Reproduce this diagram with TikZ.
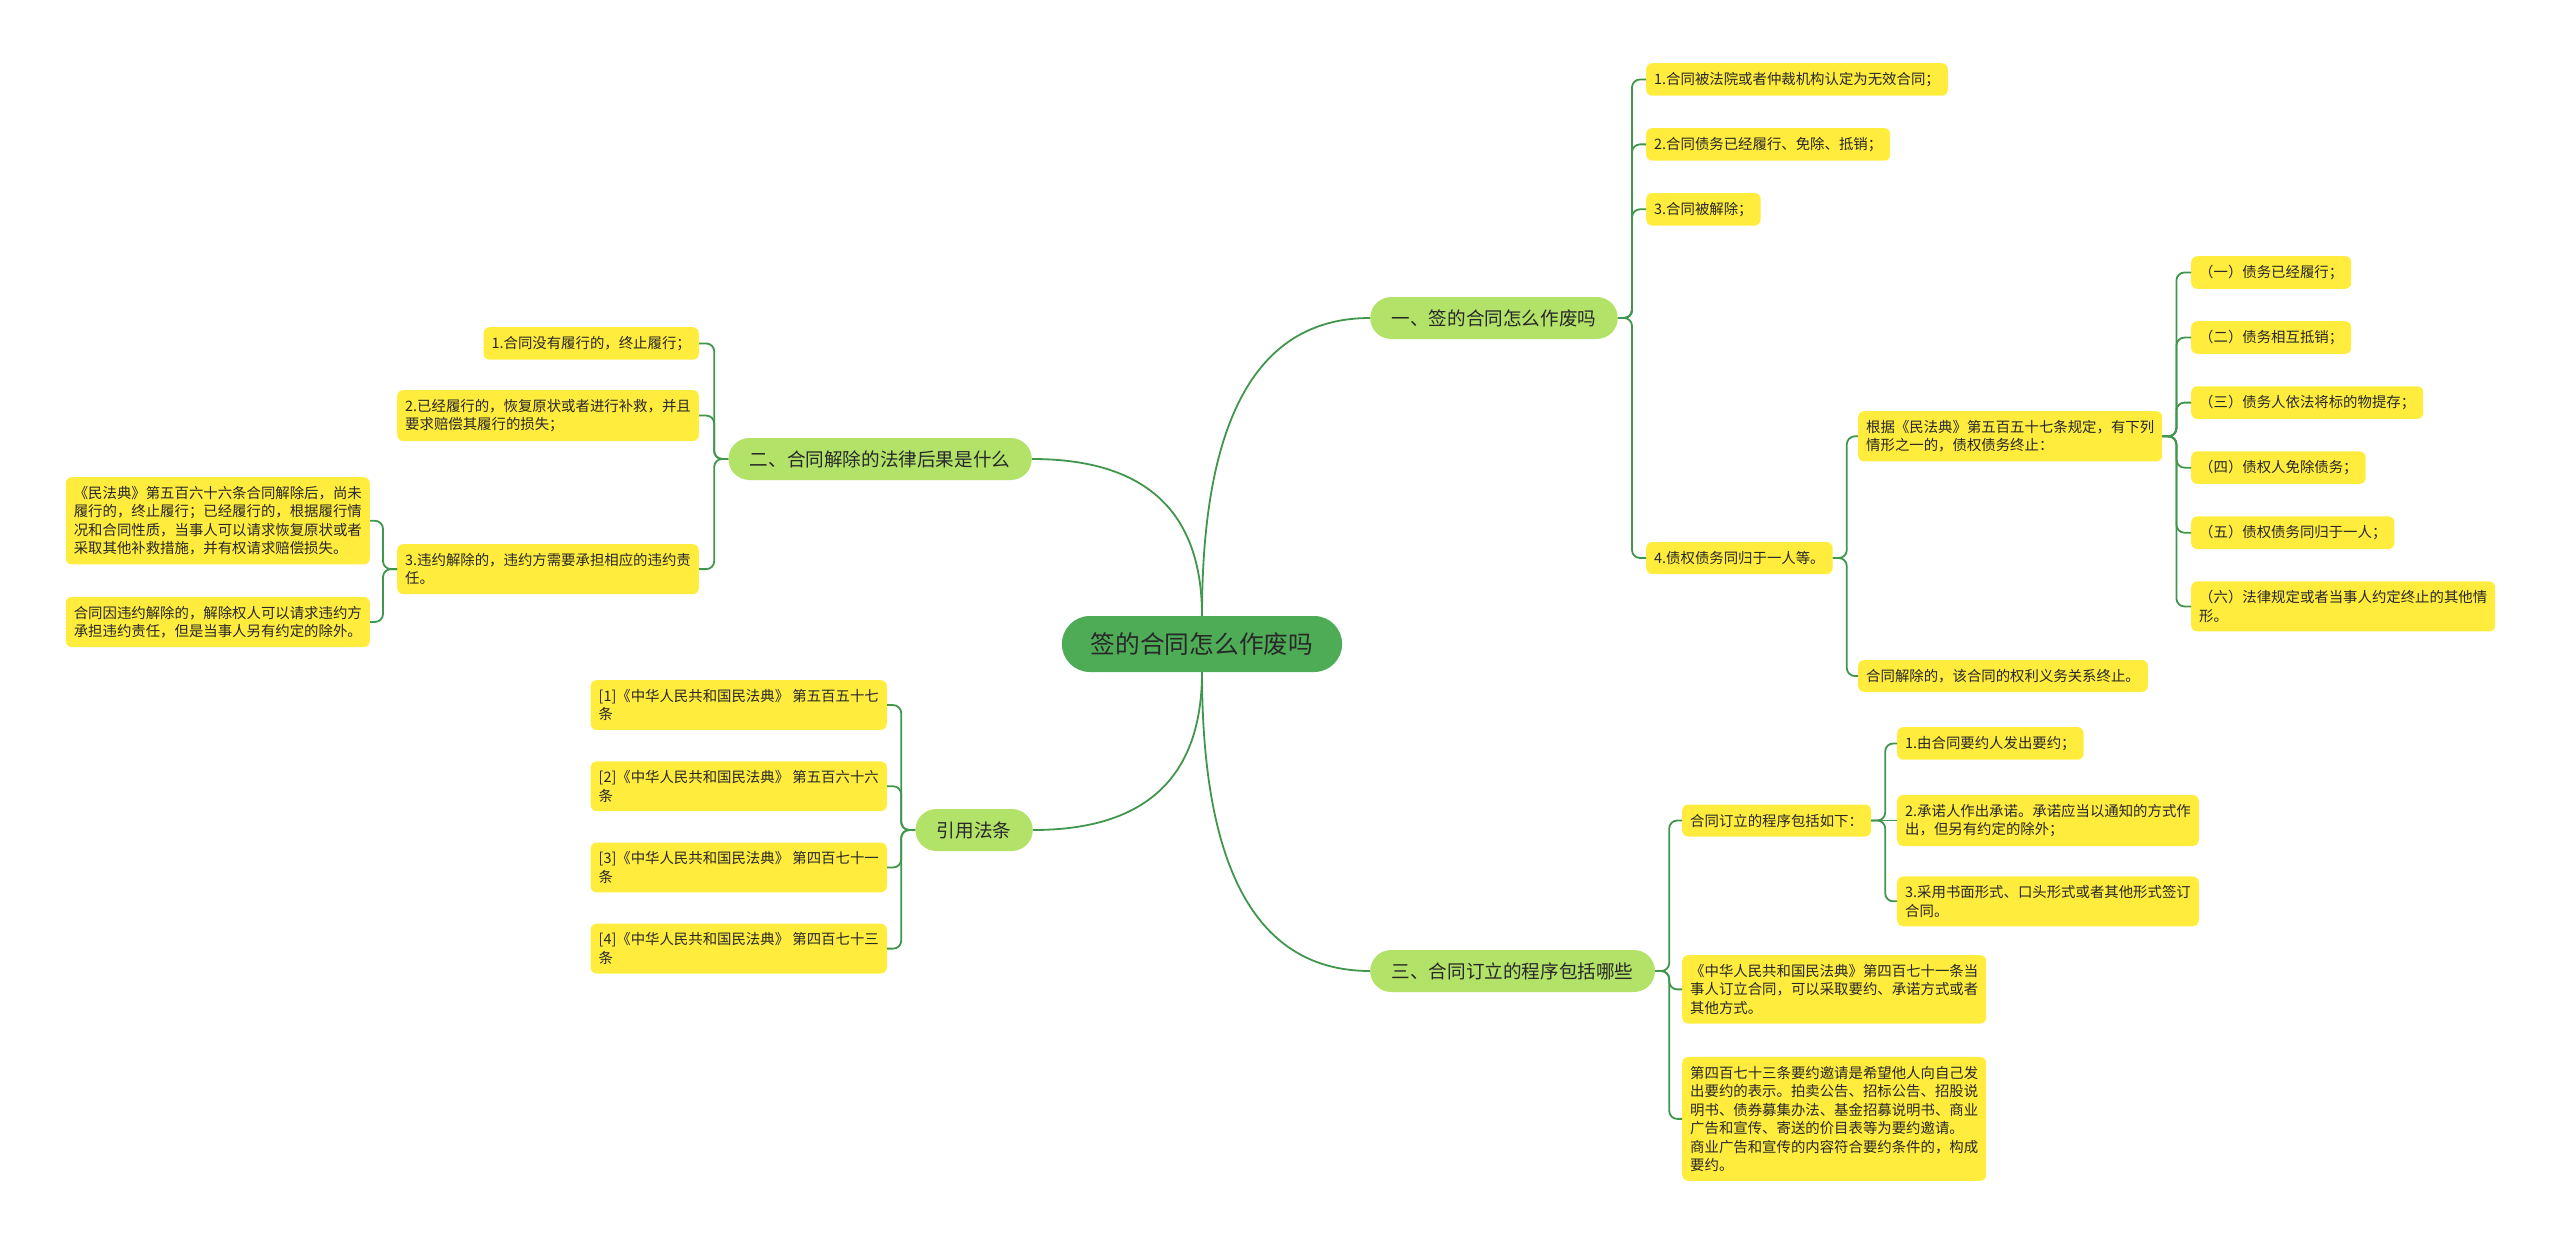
\documentclass[tikz,border=0pt]{standalone}
\usepackage{fontspec}
\setmainfont{Noto Sans CJK SC}
\usetikzlibrary{positioning,calc}
\definecolor{RootGreen}{RGB}{78,172,86}
\definecolor{TopicGreen}{RGB}{178,226,104}
\definecolor{LeafYellow}{RGB}{255,236,61}
\definecolor{LinkGreen}{RGB}{64,150,76}
\definecolor{InkGray}{RGB}{40,40,40}

\begin{document}
\begin{tikzpicture}[x=1pt,y=-1pt,
    hub/.style={fill=RootGreen,rounded corners=28pt,minimum height=56pt,inner xsep=29pt,
                font=\fontsize{24.7}{28}\selectfont,text=InkGray},
    topic/.style={fill=TopicGreen,rounded corners=21pt,minimum height=42pt,inner xsep=21.5pt,
                  font=\fontsize{18.6}{22}\selectfont,text=InkGray},
    leaf/.style={fill=LeafYellow,rounded corners=6pt,minimum height=32pt,inner xsep=8pt,inner ysep=9pt,
                 align=left,font=\fontsize{14.4}{18.5}\selectfont,text=InkGray},
    link/.style={draw=LinkGreen,line width=1.8pt},
    fork/.style={link,rounded corners=8pt}]
  \useasboundingbox (0,0) rectangle (2560,1247);
  % centre and main topics
  \node[hub] (m) at (1202,644) {签的合同怎么作废吗};
  \node[topic,anchor=west] (b1) at (1370,318) {一、签的合同怎么作废吗};
  \node[topic,anchor=east] (b2) at (1032,459) {二、合同解除的法律后果是什么};
  \node[topic,anchor=west] (b3) at (1370,971) {三、合同订立的程序包括哪些};
  \node[topic,anchor=east] (b4) at (1033,830) {引用法条};
  % topic one
  \node[leaf,anchor=north west] (c1) at (1646,63) {1.合同被法院或者仲裁机构认定为无效合同；};
  \node[leaf,below=32pt of c1.south west,anchor=north west] (c2) {2.合同债务已经履行、免除、抵销；};
  \node[leaf,below=32pt of c2.south west,anchor=north west] (c3) {3.合同被解除；};
  \node[leaf,anchor=west] (c4) at (1646,558) {4.债权债务同归于一人等。};
  \node[leaf,anchor=north west] (d1) at (1858,411) {根据《民法典》第五百五十七条规定，有下列\\情形之一的，债权债务终止：};
  \node[leaf,anchor=west] (d2) at (1858,676) {合同解除的，该合同的权利义务关系终止。};
  \node[leaf,anchor=north west] (e1) at (2191,256) {（一）债务已经履行；};
  \node[leaf,below=32pt of e1.south west,anchor=north west] (e2) {（二）债务相互抵销；};
  \node[leaf,below=32pt of e2.south west,anchor=north west] (e3) {（三）债务人依法将标的物提存；};
  \node[leaf,below=32pt of e3.south west,anchor=north west] (e4) {（四）债权人免除债务；};
  \node[leaf,below=32pt of e4.south west,anchor=north west] (e5) {（五）债权债务同归于一人；};
  \node[leaf,below=32pt of e5.south west,anchor=north west] (e6) {（六）法律规定或者当事人约定终止的其他情\\形。};
  % topic three
  \node[leaf,anchor=west] (f1) at (1682,820.5) {合同订立的程序包括如下：};
  \node[leaf,anchor=north west] (f2) at (1682,955) {《中华人民共和国民法典》第四百七十一条当\\事人订立合同，可以采取要约、承诺方式或者\\其他方式。};
  \node[leaf,below=33pt of f2.south west,anchor=north west] (f3) {第四百七十三条要约邀请是希望他人向自己发\\出要约的表示。拍卖公告、招标公告、招股说\\明书、债券募集办法、基金招募说明书、商业\\广告和宣传、寄送的价目表等为要约邀请。\\商业广告和宣传的内容符合要约条件的，构成\\要约。};
  \node[leaf,anchor=north west] (g1) at (1897,727) {1.由合同要约人发出要约；};
  \node[leaf,anchor=west] (g2) at (1897,820.5) {2.承诺人作出承诺。承诺应当以通知的方式作\\出，但另有约定的除外；};
  \node[leaf,below=30pt of g2.south west,anchor=north west] (g3) {3.采用书面形式、口头形式或者其他形式签订\\合同。};
  % topic two
  \node[leaf,anchor=north east] (h1) at (699,327) {1.合同没有履行的，终止履行；};
  \node[leaf,below=30pt of h1.south east,anchor=north east] (h2) {2.已经履行的，恢复原状或者进行补救，并且\\要求赔偿其履行的损失；};
  \node[leaf,anchor=north east] (h3) at (699,544) {3.违约解除的，违约方需要承担相应的违约责\\任。};
  \node[leaf,anchor=north east] (i1) at (370,477) {《民法典》第五百六十六条合同解除后，尚未\\履行的，终止履行；已经履行的，根据履行情\\况和合同性质，当事人可以请求恢复原状或者\\采取其他补救措施，并有权请求赔偿损失。};
  \node[leaf,below=32pt of i1.south east,anchor=north east] (i2) {合同因违约解除的，解除权人可以请求违约方\\承担违约责任，但是当事人另有约定的除外。};
  % cited articles
  \node[leaf,anchor=north east] (j1) at (887,680) {[1]《中华人民共和国民法典》 第五百五十七\\条};
  \node[leaf,below=31pt of j1.south east,anchor=north east] (j2) {[2]《中华人民共和国民法典》 第五百六十六\\条};
  \node[leaf,below=31pt of j2.south east,anchor=north east] (j3) {[3]《中华人民共和国民法典》 第四百七十一\\条};
  \node[leaf,below=31pt of j3.south east,anchor=north east] (j4) {[4]《中华人民共和国民法典》 第四百七十三\\条};
  % connectors
  \foreach \b/\s/\e in {b1/north/west,b2/north/east,b3/south/west,b4/south/east}{
    \coordinate (k) at (m.\s |- \b.\e);
    \draw[link] (m.\s) .. controls ($(m.\s)!.667!(k)$) and ($(\b.\e)!.667!(k)$) .. (\b.\e);
  }
  \foreach \p/\c in {b1/c1,b1/c2,b1/c3,b1/c4,c4/d1,c4/d2,d1/e1,d1/e2,d1/e3,d1/e4,d1/e5,d1/e6,
                     b3/f1,b3/f2,b3/f3,f1/g1,f1/g3}
    \draw[fork] (\p.east) -- ++(14pt,0) |- (\c.west);
  \draw[link] (f1) -- (g2);
  \foreach \p/\c in {b2/h1,b2/h2,b2/h3,h3/i1,h3/i2,b4/j1,b4/j2,b4/j3,b4/j4}
    \draw[fork] (\p.west) -- ++(-14pt,0) |- (\c.east);
\end{tikzpicture}
\end{document}
